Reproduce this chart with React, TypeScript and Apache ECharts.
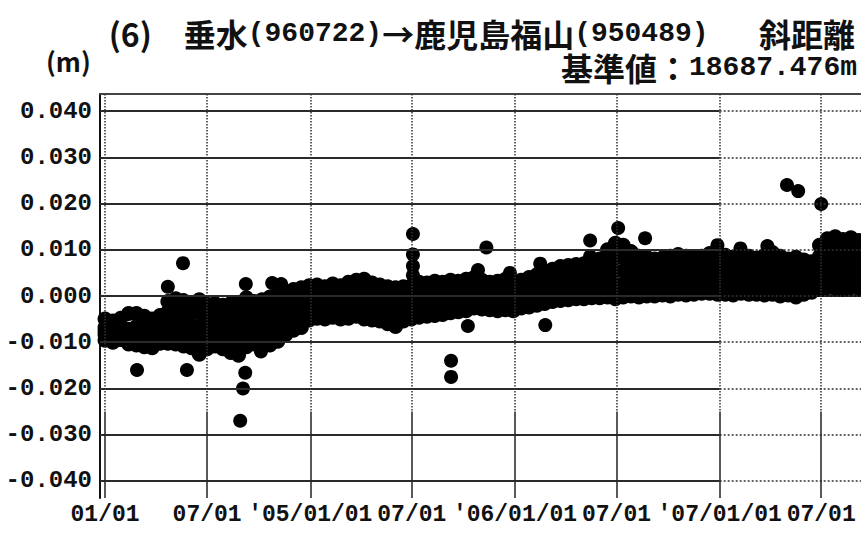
import React, { useEffect, useRef } from 'react';
import * as echarts from 'echarts';

// ---- texts ----
const unitLabel = '(m)';
const baselineValueText = '基準値：';
const baselineValueNum = '18687.476m';

// ---- axes ----
const xTickDates = ['2004-01-01', '2004-07-01', '2005-01-01', '2005-07-01', '2006-01-01', '2006-07-01', '2007-01-01', '2007-07-01'];
const xTickLabels = ['01/01', '07/01', "'05/01/01", '07/01', "'06/01/01", '07/01', "'07/01/01", '07/01'];
const yTickValues = [-0.04, -0.03, -0.02, -0.01, 0, 0.01, 0.02, 0.03, 0.04];
const xRange = ['2003-12-23', '2007-09-10'];
const yRange = [-0.0437, 0.0437];

// ---- data: dense daily band, sampled every 14 days from 2004-01-01 (values in mm) ----
const bandStartDate = '2004-01-01';
const bandStepDays = 14;
const bandHiMm = [
  -5.0, -5.4, -4.8, -3.8, -3.8, -4.4, -5.0, -4.2, -1.2, -0.6, -1.0, -1.4, -0.8, -1.8, -1.6, -2.0, -1.6, -1.4, -0.4, -1.2, -0.8, -0.2, 0.4, 0.8, 1.4, 1.8, 2.2,
  2.4, 2.0, 2.6, 2.2, 3.0, 3.4, 3.6, 2.8, 2.4, 2.0, 1.8, 2.0, 2.2, 3.0, 2.8, 3.2, 3.0, 3.4, 3.2, 3.6, 4.0, 3.4, 3.0, 3.2, 3.6, 3.0,
  3.4, 4.0, 4.6, 5.0, 5.8, 6.4, 6.6, 6.8, 7.0, 7.4, 8.0, 10.0, 11.4, 11.0, 9.6, 8.6, 8.4, 8.0, 8.2, 8.6, 9.0, 8.6, 8.2, 8.6, 9.2, 9.6,
  8.8, 8.4, 9.0, 8.6, 8.2, 8.8, 9.4, 8.6, 8.0, 8.4, 7.8, 7.4, 11.0, 12.4, 12.8, 12.2, 12.6, 12.0,
];
const bandUpperMm = [
  -6.8, -7.0, -6.5, -7.2, -6.6, -6.8, -7.2, -6.5, -3.4, -3.1, -3.5, -3.9, -3.6, -4.2, -3.9, -4.4, -4.2, -4.2, -3.0, -3.5, -3.3, -2.8, -2.2, -1.5, -0.8, -0.4, 0.4,
  0.6, 0.3, 0.8, 0.4, 1.0, 1.4, 1.4, 0.8, 0.4, 0.0, -0.3, 0.2, 0.4, 1.1, 1.0, 1.4, 1.2, 1.6, 1.6, 1.9, 2.4, 1.8, 1.5, 1.6, 2.0, 1.4,
  1.9, 2.4, 3.0, 3.4, 4.0, 4.6, 4.8, 5.0, 5.1, 5.4, 5.9, 7.4, 8.4, 8.2, 7.2, 6.4, 6.3, 6.0, 6.2, 6.4, 6.8, 6.5, 6.2, 6.6, 7.0, 7.3,
  6.7, 6.3, 6.9, 6.6, 6.2, 6.6, 7.2, 6.4, 6.0, 6.2, 6.0, 5.8, 8.6, 9.8, 10.0, 9.5, 9.9, 9.4,
];
const bandMidMm = [
  -7.6, -7.9, -7.2, -8.2, -7.5, -8.0, -8.3, -7.4, -5.8, -5.5, -6.0, -6.4, -6.6, -6.6, -6.2, -6.8, -6.9, -7.1, -5.6, -5.8, -5.8, -5.4, -4.7, -3.8, -3.0, -2.5, -1.5,
  -1.2, -1.5, -1.0, -1.4, -0.9, -0.5, -0.7, -1.2, -1.5, -2.0, -2.4, -1.7, -1.4, -0.8, -0.8, -0.5, -0.5, -0.1, -0.1, 0.2, 0.7, 0.3, 0.0, 0.0, 0.3, -0.1,
  0.4, 0.8, 1.3, 1.7, 2.3, 2.7, 2.9, 3.1, 3.2, 3.5, 3.8, 4.9, 5.4, 5.4, 4.8, 4.2, 4.2, 4.0, 4.2, 4.3, 4.7, 4.4, 4.3, 4.6, 4.9, 5.0,
  4.6, 4.3, 4.8, 4.5, 4.3, 4.5, 4.9, 4.3, 4.1, 4.1, 4.1, 4.1, 6.2, 7.1, 7.2, 6.8, 7.2, 6.8,
];
const bandLowerMm = [
  -8.4, -8.6, -8.2, -9.0, -8.6, -9.0, -9.2, -8.6, -8.0, -8.0, -8.4, -8.8, -9.6, -9.0, -8.5, -9.1, -9.6, -10.0, -8.4, -8.1, -8.3, -8.0, -7.3, -6.1, -5.2, -4.6, -3.4,
  -3.0, -3.2, -2.8, -3.2, -2.8, -2.4, -2.8, -3.2, -3.4, -4.0, -4.5, -3.6, -3.2, -2.7, -2.6, -2.3, -2.2, -1.9, -1.8, -1.5, -1.0, -1.2, -1.5, -1.6, -1.4, -1.7,
  -1.1, -0.8, -0.4, 0.0, 0.5, 0.8, 1.0, 1.2, 1.3, 1.6, 1.7, 2.3, 2.4, 2.6, 2.4, 2.0, 2.1, 2.0, 2.2, 2.1, 2.5, 2.3, 2.4, 2.6, 2.8, 2.7,
  2.5, 2.3, 2.7, 2.5, 2.4, 2.4, 2.7, 2.2, 2.2, 2.0, 2.3, 2.5, 3.8, 4.5, 4.4, 4.1, 4.5, 4.2,
];
const bandLoMm = [
  -9.6, -10.0, -9.4, -10.4, -10.6, -11.0, -11.2, -10.2, -10.2, -10.4, -10.8, -11.2, -12.6, -11.4, -10.8, -11.4, -12.2, -12.8, -11.0, -10.4, -10.8, -10.6, -9.8, -8.4, -7.4, -6.8, -5.2,
  -4.8, -5.0, -4.6, -5.0, -4.8, -4.4, -5.0, -5.2, -5.4, -6.0, -6.6, -5.4, -5.0, -4.6, -4.4, -4.2, -4.0, -3.6, -3.4, -3.2, -2.6, -2.8, -3.0, -3.2, -3.0, -3.2,
  -2.6, -2.4, -2.0, -1.6, -1.2, -1.0, -0.8, -0.6, -0.6, -0.4, -0.4, -0.2, -0.6, -0.2, 0.0, -0.2, 0.0, 0.0, 0.2, 0.0, 0.4, 0.2, 0.4, 0.6, 0.6, 0.4,
  0.4, 0.2, 0.6, 0.4, 0.4, 0.2, 0.4, 0.0, 0.2, -0.2, 0.4, 0.8, 1.4, 1.8, 1.6, 1.4, 1.8, 1.6,
];

// ---- isolated points (values in mm) ----
const outlierDates = [
  '2004-02-27', '2004-04-22', '2004-05-19', '2004-05-26', '2004-08-29', '2004-09-03', '2004-09-07', '2004-09-08',
  '2004-10-05', '2004-10-25', '2004-11-10', '2005-07-03', '2005-07-03', '2005-07-03', '2005-07-03', '2005-09-09',
  '2005-09-09', '2005-10-09', '2005-10-27', '2005-11-11', '2005-12-23', '2006-02-15', '2006-02-24', '2006-05-15',
  '2006-05-15', '2006-07-04', '2006-08-21', '2006-12-28', '2007-02-07', '2007-03-27', '2007-05-01', '2007-05-21', '2007-07-01',
];
const outlierMm = [
  -16.0, 2.0, 7.1, -16.0, -27.0, -20.0, -16.6, 2.6,
  -12.0, 2.8, 2.6, 13.4, 9.0, 6.5, 4.5, -14.0,
  -17.5, -6.5, 5.6, 10.5, 5.0, 7.0, -6.3, 12.0,
  8.6, 14.7, 12.5, 11.0, 10.3, 10.8, 24.0, 22.7, 19.9,
];

const DAY_MS = 86400000;
const MONO = "'Liberation Mono', 'DejaVu Sans Mono', monospace";
const CJK = "'Noto Sans CJK JP', sans-serif";
const INK = '#111';

export default function App() {
  const ref = useRef<HTMLDivElement>(null);

  useEffect(() => {
    if (!ref.current) return;
    const chart = echarts.init(ref.current, undefined, { renderer: 'svg' });

    const t = (s: string) => Date.parse(s);
    const start = t(bandStartDate);
    const bandData: number[][] = [];
    [bandHiMm, bandUpperMm, bandMidMm, bandLowerMm, bandLoMm].forEach((arr) => {
      arr.forEach((v, i) => bandData.push([start + i * bandStepDays * DAY_MS, v / 1000]));
    });
    const outlierData = outlierDates.map((d, i) => [t(d), outlierMm[i] / 1000]);

    const xTicks = xTickDates.map(t);
    const xMin = t(xRange[0]);
    const xMax = t(xRange[1]);
    const split2007 = t('2007-01-01');
    const vSplitY = -0.025;

    const gridLines: any[] = [];
    yTickValues.forEach((y) => {
      gridLines.push([
        { coord: [xMin, y], lineStyle: { color: '#2a2a2a', width: 1.8, type: 'solid' } },
        { coord: [split2007, y] },
      ]);
      gridLines.push([
        { coord: [split2007, y], lineStyle: { color: '#333', width: 1.6, type: [2, 2] } },
        { coord: [xMax, y] },
      ]);
    });
    xTicks.forEach((x) => {
      gridLines.push([
        { coord: [x, yRange[1]], lineStyle: { color: '#333', width: 1.5, type: [1.5, 1.5] } },
        { coord: [x, vSplitY] },
      ]);
      gridLines.push([
        { coord: [x, vSplitY], lineStyle: { color: '#222', width: 1.5, type: 'solid' } },
        { coord: [x, yRange[0]] },
      ]);
    });

    const kStyle = { fontFamily: CJK, fontSize: 32, fontWeight: 'bold', fill: INK, lineHeight: 32 };
    const lStyle = { fontFamily: MONO, fontSize: 28, fontWeight: 'bold', fill: INK, lineHeight: 32 };

    chart.setOption({
      animation: false,
      backgroundColor: '#fff',
      grid: { left: 100, right: 0, top: 94, bottom: 38 },
      xAxis: [
        {
          type: 'value',
          min: xMin,
          max: xMax,
          position: 'bottom',
          axisLine: { show: true, lineStyle: { color: INK, width: 2 } },
          axisTick: { show: false },
          splitLine: { show: false },
          axisLabel: {
            customValues: xTicks,
            interval: 0,
            hideOverlap: false,
            margin: 5,
            color: INK,
            fontFamily: MONO,
            fontWeight: 'bold',
            fontSize: 23,
            formatter: (v: number) => {
              const i = xTicks.indexOf(v);
              return i >= 0 ? xTickLabels[i] : '';
            },
          },
        },
        {
          type: 'value',
          min: xMin,
          max: xMax,
          position: 'top',
          axisLine: { show: true, lineStyle: { color: '#444', width: 2 } },
          axisTick: { show: false },
          axisLabel: { show: false },
          splitLine: { show: false },
        },
      ],
      yAxis: {
        type: 'value',
        min: yRange[0],
        max: yRange[1],
        axisLine: { show: true, lineStyle: { color: INK, width: 2 } },
        axisTick: { show: false },
        splitLine: { show: false },
        axisLabel: {
          customValues: yTickValues,
          margin: 8,
          color: INK,
          fontFamily: MONO,
          fontWeight: 'bold',
          fontSize: 24,
          formatter: (v: number) => v.toFixed(3),
        },
      },
      graphic: [
        {
          type: 'text',
          right: 6,
          top: 17,
          style: {
            text: '{k|(6)　垂水}{l|(960722)}{k|→鹿児島福山}{l|(950489)\u00a0\u00a0\u00a0}{k|斜距離}',
            rich: { k: kStyle, l: lStyle },
          },
        },
        {
          type: 'text',
          right: 4,
          top: 51,
          style: {
            text: '{k|' + baselineValueText + '}{l|' + baselineValueNum + '}',
            rich: { k: kStyle, l: lStyle },
          },
        },
        {
          type: 'text',
          left: 46,
          top: 47,
          style: { text: unitLabel, fontFamily: CJK, fontSize: 26, fontWeight: 'bold', fill: INK },
        },
      ],
      series: [
        {
          type: 'scatter',
          name: 'outliers',
          z: 1,
          symbol: 'circle',
          symbolSize: 14,
          itemStyle: { color: '#000', opacity: 1 },
          data: outlierData,
          silent: true,
          markLine: {
            silent: true,
            symbol: ['none', 'none'],
            label: { show: false },
            emphasis: { disabled: true },
            data: gridLines,
          },
        },
        {
          type: 'scatter',
          name: 'band',
          z: 2,
          symbol: 'circle',
          symbolSize: 15,
          itemStyle: { color: '#000', opacity: 1 },
          data: bandData,
          silent: true,
        },
      ],
    });

    return () => chart.dispose();
  }, []);

  return (
    <div
      ref={ref}
      style={{ position: 'fixed', left: 0, top: 0, width: 861, height: 536, background: '#fff' }}
    />
  );
}
